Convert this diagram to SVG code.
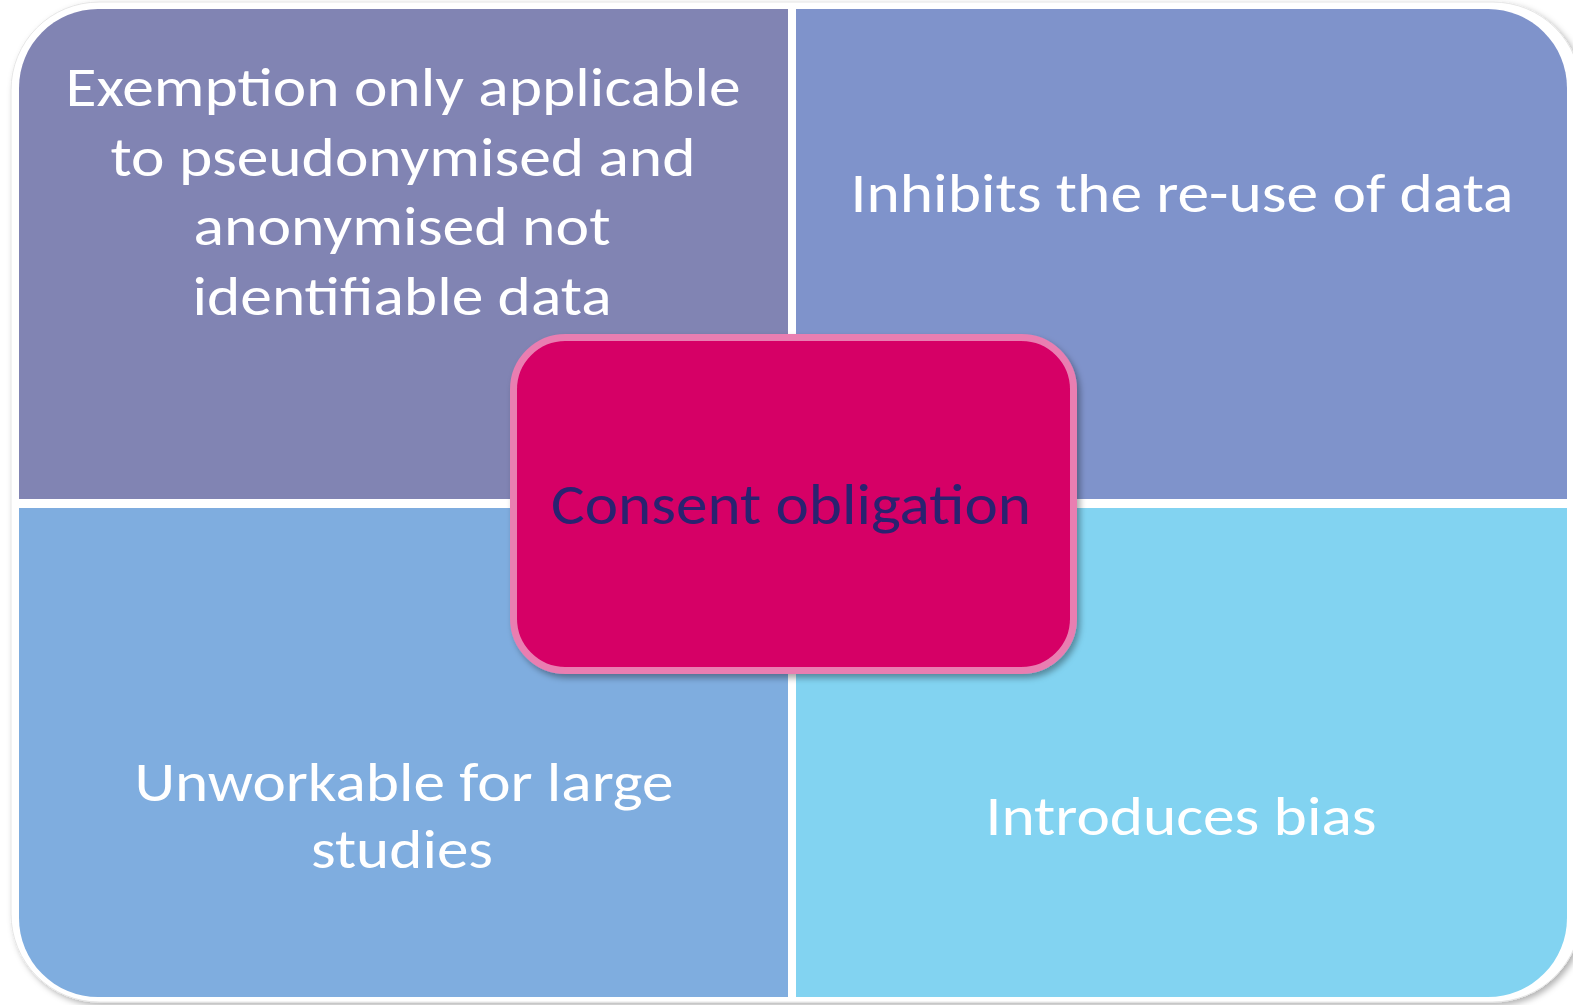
<svg xmlns="http://www.w3.org/2000/svg" width="1573" height="1005" viewBox="0 0 1573 1005">
  <style>
    .q { font-family: Calibri, "Open Sans", "Noto Sans", sans-serif; font-size: 56px; fill: #ffffff; text-anchor: middle; }
    .c { font-family: Calibri, "Open Sans", "Noto Sans", sans-serif; font-size: 57px; fill: #2A2270; text-anchor: middle; }
  </style>
  <defs>
    <filter id="frameShadow" x="-5%" y="-5%" width="110%" height="110%">
      <feDropShadow dx="3" dy="3" stdDeviation="3" flood-color="#000000" flood-opacity="0.3"/>
    </filter>
    <filter id="boxShadow" x="-10%" y="-10%" width="120%" height="125%">
      <feDropShadow dx="3" dy="4" stdDeviation="3" flood-color="#000000" flood-opacity="0.35"/>
    </filter>
  </defs>
  <rect width="1573" height="1005" fill="#ffffff"/>
  <g id="frame">
    <rect x="11" y="2" width="1570" height="1000" rx="88" fill="#ffffff" stroke="#e6e6e6" stroke-width="1" filter="url(#frameShadow)"/>
  </g>
  <g id="node-tl">
    <path d="M19,88 A79,79 0 0 1 98,9 L788,9 L788,499 L19,499 Z" fill="#8184B3"/>
    <text class="q" x="403" y="106" textLength="675" lengthAdjust="spacingAndGlyphs">Exemption only applicable</text>
    <text class="q" x="403" y="176" textLength="585" lengthAdjust="spacingAndGlyphs">to pseudonymised and</text>
    <text class="q" x="402" y="245" textLength="417" lengthAdjust="spacingAndGlyphs">anonymised not</text>
    <text class="q" x="402" y="315" textLength="419" lengthAdjust="spacingAndGlyphs">identifiable data</text>
  </g>
  <g id="node-tr">
    <path d="M796,9 L1488,9 A79,79 0 0 1 1567,88 L1567,499 L796,499 Z" fill="#7F93CB"/>
    <text class="q" x="1182" y="212" textLength="663" lengthAdjust="spacingAndGlyphs">Inhibits the re-use of data</text>
  </g>
  <g id="node-bl">
    <path d="M19,508 L788,508 L788,997 L98,997 A79,79 0 0 1 19,918 Z" fill="#7FADDF"/>
    <text class="q" x="404" y="801" textLength="539" lengthAdjust="spacingAndGlyphs">Unworkable for large</text>
    <text class="q" x="402" y="868" textLength="182" lengthAdjust="spacingAndGlyphs">studies</text>
  </g>
  <g id="node-br">
    <path d="M796,508 L1567,508 L1567,918 A79,79 0 0 1 1488,997 L796,997 Z" fill="#82D3F1"/>
    <text class="q" x="1181" y="835" textLength="391" lengthAdjust="spacingAndGlyphs">Introduces bias</text>
  </g>
  <g id="connectors"></g>
  <g id="node-center">
    <rect x="513.5" y="337.5" width="560" height="333" rx="52" fill="#D60066" stroke="#E97EB1" stroke-width="7" filter="url(#boxShadow)"/>
    <text class="c" x="791" y="524" textLength="480" lengthAdjust="spacingAndGlyphs">Consent obligation</text>
  </g>
</svg>
